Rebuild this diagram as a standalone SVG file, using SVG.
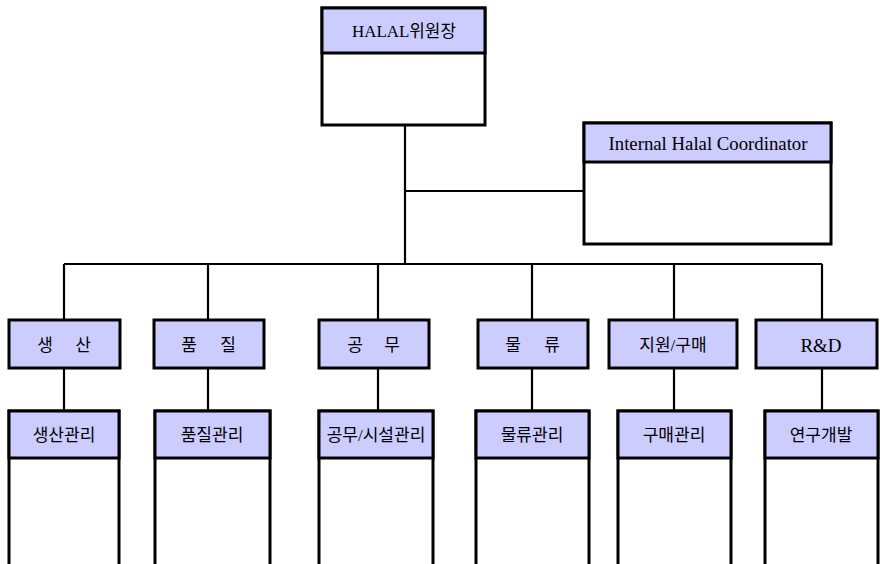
<svg xmlns="http://www.w3.org/2000/svg" width="880" height="564" viewBox="0 0 880 564">
<style>
.box{fill:#fff;stroke:#000;stroke-width:3}
.hd{fill:#ccccff;stroke:#000;stroke-width:3}
.ln{fill:none;stroke:#000;stroke-width:2.2}
text{font-family:"Liberation Serif","Noto Sans CJK KR",serif;font-size:17px;fill:#000;text-anchor:middle;dominant-baseline:central}
</style>
<rect width="880" height="564" fill="#fff"/>
<g id="connectors">
<path class="ln" d="M405 125V264M405 191H584M64 264H822M64 264V320M208 264V320M378 264V320M532 264V320M674 264V320M822 264V320M64 368V411M208 368V411M378 368V411M532 368V411M674 368V411M822 368V411"/>
</g>
<g id="halal">
<rect class="box" x="322" y="8" width="163" height="117"/>
<rect class="hd" x="322" y="8" width="163" height="45"/>
<text x="404" y="31" textLength="104" lengthAdjust="spacingAndGlyphs">HALAL위원장</text>
</g>
<g id="coordinator">
<rect class="box" x="584" y="123" width="247" height="121"/>
<rect class="hd" x="584" y="123" width="247" height="39"/>
<text x="708" y="143" style="font-size:19px" textLength="199" lengthAdjust="spacingAndGlyphs">Internal Halal Coordinator</text>
</g>
<g id="production"><rect class="hd" x="9" y="320" width="111" height="48"/><text y="345"><tspan x="45">생</tspan><tspan x="83">산</tspan></text></g>
<g id="quality"><rect class="hd" x="154" y="320" width="110" height="48"/><text y="345"><tspan x="189">품</tspan><tspan x="228">질</tspan></text></g>
<g id="engineering"><rect class="hd" x="319" y="320" width="110" height="48"/><text y="345"><tspan x="355">공</tspan><tspan x="392">무</tspan></text></g>
<g id="logistics"><rect class="hd" x="478" y="320" width="110" height="48"/><text y="345"><tspan x="513">물</tspan><tspan x="552">류</tspan></text></g>
<g id="support"><rect class="hd" x="609" y="320" width="128" height="48"/><text x="673" y="345">지원/구매</text></g>
<g id="rnd"><rect class="hd" x="756" y="320" width="121" height="48"/><text x="821" y="345" style="font-size:19px">R&amp;D</text></g>
<g id="production-mgmt"><rect class="box" x="9" y="411" width="110" height="160"/><rect class="hd" x="9" y="411" width="110" height="47"/><text x="64" y="435">생산관리</text></g>
<g id="quality-mgmt"><rect class="box" x="155" y="411" width="115" height="160"/><rect class="hd" x="155" y="411" width="115" height="47"/><text x="212" y="435">품질관리</text></g>
<g id="facility-mgmt"><rect class="box" x="319" y="411" width="114" height="160"/><rect class="hd" x="319" y="411" width="114" height="47"/><text x="376" y="435">공무/시설관리</text></g>
<g id="logistics-mgmt"><rect class="box" x="476" y="411" width="113" height="160"/><rect class="hd" x="476" y="411" width="113" height="47"/><text x="532" y="435">물류관리</text></g>
<g id="purchase-mgmt"><rect class="box" x="618" y="411" width="113" height="160"/><rect class="hd" x="618" y="411" width="113" height="47"/><text x="674" y="435">구매관리</text></g>
<g id="research"><rect class="box" x="765" y="411" width="113" height="160"/><rect class="hd" x="765" y="411" width="113" height="47"/><text x="821" y="435">연구개발</text></g>
</svg>
